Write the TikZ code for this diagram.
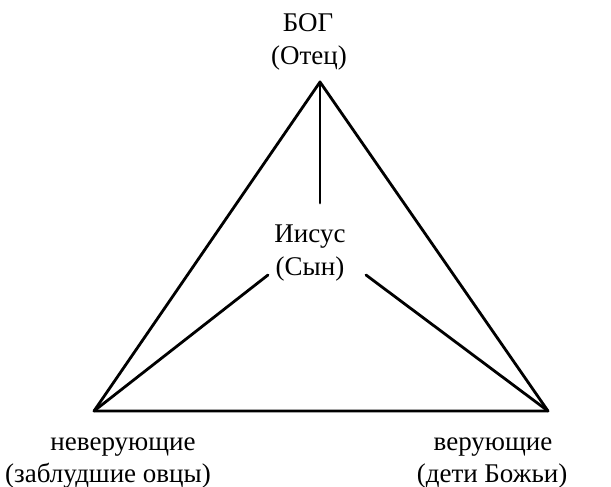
\documentclass[tikz,border=0pt]{standalone}
\usepackage{fontspec}
\setmainfont{Liberation Serif}
\begin{document}
\begin{tikzpicture}[x=1pt,y=-1pt,
  lbl/.style={anchor=base,inner sep=0pt,font=\fontsize{27}{31}\selectfont},
  edge/.style={line width=2.8pt,line cap=round,line join=round}]
\useasboundingbox (0,0) rectangle (611,487);
\coordinate (apex) at (320,82);
\coordinate (bl) at (94,411);
\coordinate (br) at (548,411);
\coordinate (vend) at (320,203);
\coordinate (lend) at (268,275);
\coordinate (rend) at (366,275);
\draw[edge] (apex) -- (bl) -- (br) -- cycle;
\draw[edge] (apex) -- (vend);
\draw[edge] (bl) -- (lend);
\draw[edge] (br) -- (rend);
\node[lbl] (god1) at (308,32) {БОГ};
\node[lbl] (god2) at (309,65) {(Отец)};
\node[lbl] (son1) at (310,242) {Иисус};
\node[lbl] (son2) at (310,275) {(Сын)};
\node[lbl] (unb1) at (123,450) {неверующие};
\node[lbl] (unb2) at (108,482) {(заблудшие овцы)};
\node[lbl] (bel1) at (493,450) {верующие};
\node[lbl] (bel2) at (492,482) {(дети Божьи)};
\end{tikzpicture}
\end{document}
